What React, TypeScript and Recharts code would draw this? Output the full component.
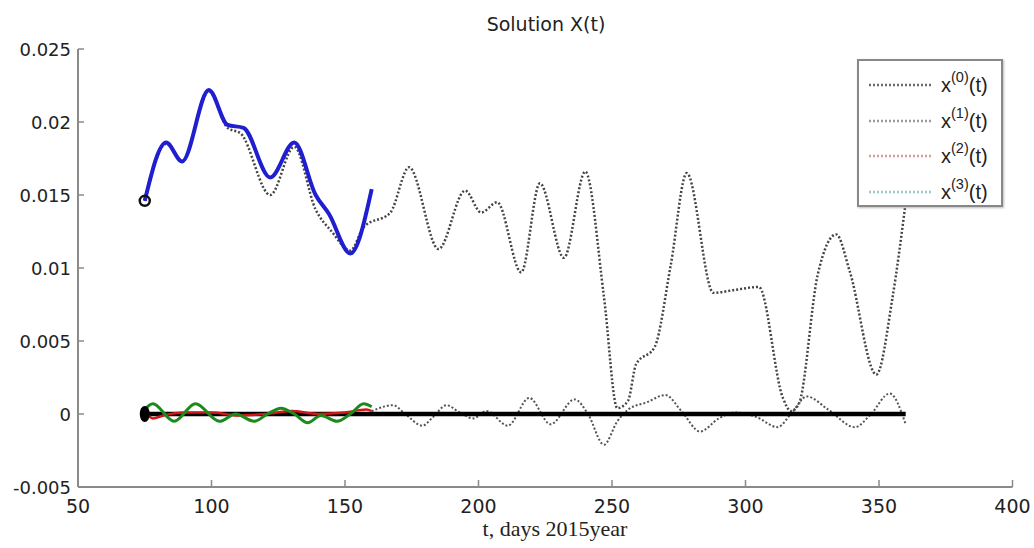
import React from 'react';
import { ComposedChart, Line, XAxis, YAxis } from 'recharts';

// axis ticks
const xTicks = [50, 100, 150, 200, 250, 300, 350, 400];
const yTicks = [-0.005, 0, 0.005, 0.01, 0.015, 0.02, 0.025];

// upper dotted curve (observed)
const x0Days = [75, 83, 89, 99, 106, 111, 122, 131, 139, 145, 152, 157, 167, 174, 185, 195, 201, 207, 216, 223, 232, 240, 247, 252, 256, 259, 266, 272, 278, 288, 296, 305, 314, 317, 320, 327, 334, 339, 349, 355, 360];
const x0Values = [0.0146, 0.0185, 0.0173, 0.0221, 0.0196, 0.0192, 0.015, 0.0183, 0.014, 0.0125, 0.0112, 0.0128, 0.0138, 0.0169, 0.0113, 0.0153, 0.0138, 0.0145, 0.0097, 0.0158, 0.0107, 0.0166, 0.008, 0.0004, 0.0009, 0.0034, 0.0046, 0.0102, 0.0165, 0.0083, 0.0085, 0.0087, 0.0011, 0.0002, 0.0007, 0.0095, 0.0123, 0.0098, 0.0027, 0.0079, 0.0145];

// lower dotted curve around zero
const x1Days = [160, 168, 172, 179, 183, 188, 193, 198, 203, 211, 219, 227, 236, 241, 247, 252, 256, 263, 270, 276, 283, 290, 296, 304, 312, 317, 323, 331, 341, 347, 354, 360];
const x1Values = [0.0002, 0.0006, 0.0001, -0.0008, -0.0002, 0.0006, 0.0001, -0.0003, 0.0002, -0.0008, 0.0011, -0.0007, 0.001, 0.0, -0.0021, -0.0005, 0.0003, 0.0008, 0.0013, 0.0002, -0.0012, -0.0003, 0.0001, -0.0002, -0.0009, 0.0, 0.0012, 0.0003, -0.0009, 0.0, 0.0014, -0.0007];

// solid blue fit
const fitDays = [75, 83, 89, 99, 106, 112, 122, 131, 139, 144, 152, 160];
const fitValues = [0.0146, 0.0186, 0.0173, 0.0222, 0.0198, 0.0196, 0.0162, 0.0186, 0.015, 0.0137, 0.011, 0.0154];

// green and red near zero
const greenDays = [75, 78, 86, 94, 103, 109, 116, 121, 126, 131, 136, 141, 147, 152, 157, 160];
const greenValues = [0.0003, 0.0007, -0.0005, 0.0007, -0.0005, 0.0, -0.0005, 0.0, 0.0004, 0.0, -0.0006, -0.0001, -0.0005, 0.0, 0.0007, 0.0005];
const redDays = [75, 78, 82, 90, 100, 110, 120, 130, 140, 150, 158, 160];
const redValues = [0.0002, -0.0003, -0.0001, 0.0001, 0.0001, -0.0001, 0.0, 0.0002, 0.0, 0.0001, 0.0003, 0.0002];

// black zero line
const zeroDays = [75, 360];
const zeroValues = [0, 0];

const legendLabels = ['0', '1', '2', '3'];
const legendColors = ['#6a6a6a', '#9a9a9a', '#d99a9a', '#9ccaca'];

const zip = (days: number[], values: number[]) => days.map((t, i) => ({ t, v: values[i] }));

const x0Data = zip(x0Days, x0Values);
const x1Data = zip(x1Days, x1Values);
const fitData = zip(fitDays, fitValues);
const greenData = zip(greenDays, greenValues);
const redData = zip(redDays, redValues);
const zeroData = zip(zeroDays, zeroValues);

const axisColor = '#8a8a8a';

const YTick = ({ x, y, payload }: any) => (
  <g>
    <line x1={x} y1={y} x2={x + 6} y2={y} stroke={axisColor} strokeWidth={1.5} />
    <text x={x - 7} y={y} dy={6.5} textAnchor="end" fontSize={18} fontFamily="DejaVu Sans" fill="#222">
      {payload.value}
    </text>
  </g>
);

const XTick = ({ x, y, payload }: any) => (
  <g>
    <line x1={x} y1={y} x2={x} y2={y - 7} stroke={axisColor} strokeWidth={1.5} />
    <text x={x} y={y + 26} textAnchor="middle" fontSize={19} fontFamily="DejaVu Sans" fill="#222">
      {payload.value}
    </text>
  </g>
);

const StartRing = (props: any) =>
  props.index === 0 ? (
    <circle key="ring" cx={props.cx} cy={props.cy} r={5} fill="none" stroke="#111" strokeWidth={2.5} />
  ) : (
    <g key={`r${props.index}`} />
  );

const StartBlob = (props: any) =>
  props.index === 0 ? (
    <ellipse key="blob" cx={props.cx} cy={props.cy} rx={5} ry={8} fill="#000" />
  ) : (
    <g key={`b${props.index}`} />
  );

export default function App() {
  return (
    <div style={{ position: 'absolute', left: 0, top: 0, width: 1034, height: 548, background: '#fff' }}>
      <div
        style={{
          position: 'absolute',
          left: 0,
          width: 1092,
          top: 12,
          textAlign: 'center',
          fontFamily: 'DejaVu Sans',
          fontSize: 19,
          lineHeight: '24px',
          color: '#222',
        }}
      >
        Solution X(t)
      </div>
      <ComposedChart width={1034} height={548} margin={{ top: 49, right: 21.5, bottom: 31, left: 0 }}>
        <XAxis
          type="number"
          dataKey="t"
          domain={[50, 400]}
          ticks={xTicks}
          allowDataOverflow
          height={30}
          tickSize={0}
          tickMargin={0}
          tickLine={false}
          axisLine={{ stroke: axisColor, strokeWidth: 2 }}
          tick={<XTick />}
        />
        <YAxis
          type="number"
          dataKey="v"
          domain={[-0.005, 0.025]}
          ticks={yTicks}
          allowDataOverflow
          width={78}
          tickSize={0}
          tickMargin={0}
          tickLine={false}
          axisLine={{ stroke: axisColor, strokeWidth: 2 }}
          tick={<YTick />}
        />
        <Line data={x0Data} dataKey="v" type="monotone" stroke="#444" strokeWidth={2.5} strokeDasharray="2 2" dot={false} isAnimationActive={false} />
        <Line data={x1Data} dataKey="v" type="monotone" stroke="#555" strokeWidth={2} strokeDasharray="2 2" dot={false} isAnimationActive={false} />
        <Line data={fitData} dataKey="v" type="monotone" stroke="#1f1fd0" strokeWidth={4} dot={StartRing} isAnimationActive={false} />
        <Line data={zeroData} dataKey="v" type="linear" stroke="#000" strokeWidth={4.5} dot={StartBlob} isAnimationActive={false} />
        <Line data={redData} dataKey="v" type="monotone" stroke="#d01818" strokeWidth={2.5} dot={false} isAnimationActive={false} />
        <Line data={greenData} dataKey="v" type="monotone" stroke="#1a8a1a" strokeWidth={3} dot={false} isAnimationActive={false} />
      </ComposedChart>
      <div
        style={{
          position: 'absolute',
          left: 0,
          width: 1110,
          top: 516,
          textAlign: 'center',
          fontFamily: 'Liberation Serif',
          fontSize: 22,
          lineHeight: '26px',
          color: '#222',
        }}
      >
        t, days 2015year
      </div>
      <div
        style={{
          position: 'absolute',
          left: 857,
          top: 59,
          width: 142,
          height: 144,
          border: '2px solid #888',
          background: '#fff',
          boxShadow: '1px 1px 2px #bbb',
        }}
      >
        {legendLabels.map((n, i) => (
          <div key={n} style={{ position: 'absolute', left: 9, top: 10 + i * 35.5, height: 28, width: 130 }}>
            <svg width={66} height={28} style={{ position: 'absolute', left: 0, top: 0 }}>
              <line x1={1} y1={14} x2={65} y2={14} stroke={legendColors[i]} strokeWidth={2.5} strokeDasharray="2 2" />
            </svg>
            <span
              style={{
                position: 'absolute',
                left: 73,
                top: 0,
                fontFamily: 'Liberation Sans',
                fontSize: 20,
                lineHeight: '28px',
                color: '#222',
                whiteSpace: 'nowrap',
              }}
            >
              x<sup style={{ fontSize: 14.5, verticalAlign: 'top', lineHeight: '14px', position: 'relative', top: -1 }}>({n})</sup>(t)
            </span>
          </div>
        ))}
      </div>
    </div>
  );
}
